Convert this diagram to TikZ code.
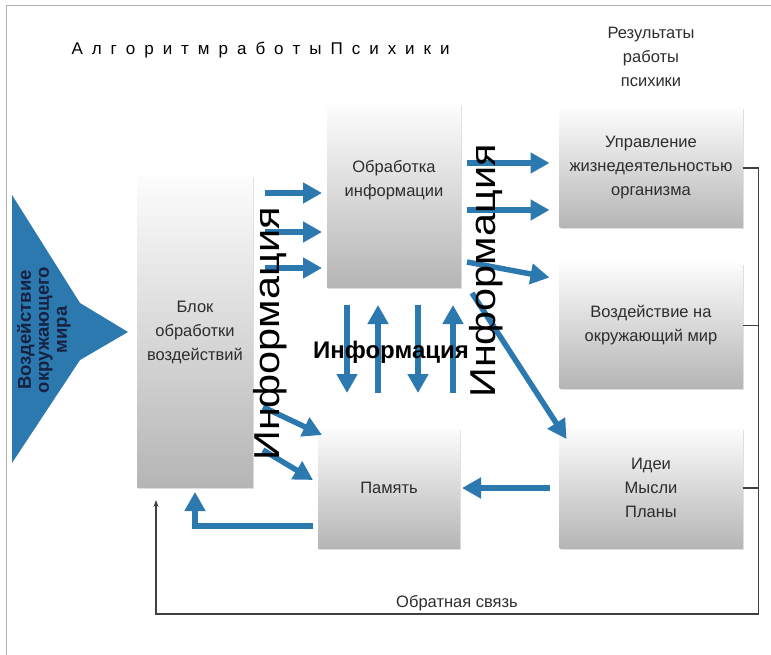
\documentclass[tikz,border=0pt]{standalone}
\usepackage{fontspec}
\setmainfont{Liberation Sans}
\newfontfamily\titlefont[WordSpace=1.9]{Liberation Sans}
\newfontfamily\widefont[FakeStretch=1.15]{Liberation Sans}
\usepackage{xcolor}
\usetikzlibrary{positioning, shadows, arrows.meta}

\definecolor{infoblue}{RGB}{44,121,176}
\definecolor{mirtext}{RGB}{22,34,66}
\definecolor{boxtext}{RGB}{45,45,45}

\begin{document}
\begin{tikzpicture}[x=1pt, y=-1pt,
    box/.style = {top color=gray!2, bottom color=gray!58, inner sep=0pt, outer sep=0pt,
      drop shadow={shadow xshift=1pt, shadow yshift=-1.5pt, opacity=0.25},
      align=center, text=boxtext, font=\fontsize{16.5}{24}\selectfont},
    flow/.style = {draw=infoblue, line width=5.5pt, -{Triangle[length=19pt, width=20pt]}},
    fbline/.style = {draw=black!75, line width=1.4pt}]
    \useasboundingbox (0,0) rectangle (771,655);
    \draw[gray!60, line width=1pt] (6,655) -- (6,6) -- (771,6);

    % boxes
    \node[box, minimum width=116pt, minimum height=310pt] (blok) at (195,332) {Блок\\обработки\\воздействий};
    \node[box, minimum width=134pt, minimum height=182pt] (obrab) at (394,196) {Обработка\\информации\\[12pt]};
    \node[box, minimum width=142pt, minimum height=120pt] (pamyat) at (389,488) {Память};
    \node[box, minimum width=183pt, minimum height=120pt] (upravl) at (651,168) {Управление\\жизнедеятельностью\\организма};
    \node[box, minimum width=183pt, minimum height=125pt] (vozd) [below=35pt of upravl] {Воздействие на\\окружающий мир};
    \node[box, minimum width=183pt, minimum height=120pt] (idei) [below=40pt of vozd] {Идеи\\Мысли\\Планы};

    % outer world
    \fill[infoblue] (12,195) -- (80,303) -- (128,332) -- (80,360) -- (12,463) -- cycle;
    \node[rotate=90, align=center, text=mirtext, font=\bfseries\fontsize{18.5}{18}\selectfont] (mir) at (44,330) {Воздействие\\окружающего\\мира};

    % titles
    \node[anchor=west, font=\titlefont\fontsize{17}{20}\selectfont] (title) at (68,50) {А л г о р и т м р а б о т ы П с и х и к и};
    \node[align=center, text=boxtext, font=\fontsize{16.5}{24}\selectfont] (rez) at (651,57) {Результаты\\работы\\психики};

    % information flows
    \draw[flow] ([xshift=12pt,yshift=139pt]blok.east) -- ([xshift=-5pt,yshift=3pt]obrab.west);
    \draw[flow] ([xshift=12pt,yshift=100pt]blok.east) -- ([xshift=-5pt,yshift=-36pt]obrab.west);
    \draw[flow] ([xshift=12pt,yshift=64pt]blok.east) -- ([xshift=-5pt,yshift=-72pt]obrab.west);
    \draw[flow] ([xshift=10pt,yshift=-75pt]blok.east) -- ([xshift=4pt,yshift=53pt]pamyat.west);
    \draw[flow] ([xshift=10pt,yshift=-118pt]blok.east) -- ([xshift=-5pt,yshift=8pt]pamyat.west);
    \draw[flow] ([xshift=-47pt,yshift=-18pt]obrab.south) -- ([xshift=-42pt,yshift=35pt]pamyat.north);
    \draw[flow] ([xshift=-11pt,yshift=35pt]pamyat.north) -- ([xshift=-16pt,yshift=-18pt]obrab.south);
    \draw[flow] ([xshift=24pt,yshift=-18pt]obrab.south) -- ([xshift=29pt,yshift=35pt]pamyat.north);
    \draw[flow] ([xshift=64pt,yshift=35pt]pamyat.north) -- ([xshift=59pt,yshift=-18pt]obrab.south);
    \draw[flow] ([xshift=6pt,yshift=33pt]obrab.east) -- ([xshift=-10pt,yshift=5pt]upravl.west);
    \draw[flow] ([xshift=6pt,yshift=-14pt]obrab.east) -- ([xshift=-10pt,yshift=-42pt]upravl.west);
    \draw[flow] ([xshift=6pt,yshift=-66pt]obrab.east) -- ([xshift=-10pt,yshift=48pt]vozd.west);
    \draw[flow] ([xshift=11pt,yshift=-6pt]obrab.south east) -- ([xshift=7pt,yshift=-11pt]idei.north west);
    \draw[flow] ([xshift=-10pt]idei.west) -- ([xshift=2pt]pamyat.east);
    \draw[flow, shorten >=5pt] ([xshift=-5pt,yshift=-38pt]pamyat.west) -| (blok.south);

    \node[rotate=90, font=\widefont\fontsize{36}{40}\selectfont] (info1) at (270,334) {Информация};
    \node[rotate=90, font=\widefont\fontsize{36}{40}\selectfont] (info2) at (486,271) {Информация};
    \node[font=\bfseries\fontsize{24}{26}\selectfont] (info3) at (391,352) {Информация};

    % feedback
    \draw[fbline, -{Stealth[length=7pt, width=5pt]}] (upravl.east) -- ++(16,0) -- ++(0,446)
      -| ([xshift=19pt,yshift=-13pt]blok.south west);
    \draw[fbline] (vozd.east) -- ++(16,0);
    \draw[fbline] (idei.east) -- ++(16,0);
    \node[text=boxtext, font=\fontsize{16.5}{20}\selectfont] (obsv) at (457,603) {Обратная связь};
\end{tikzpicture}
\end{document}
